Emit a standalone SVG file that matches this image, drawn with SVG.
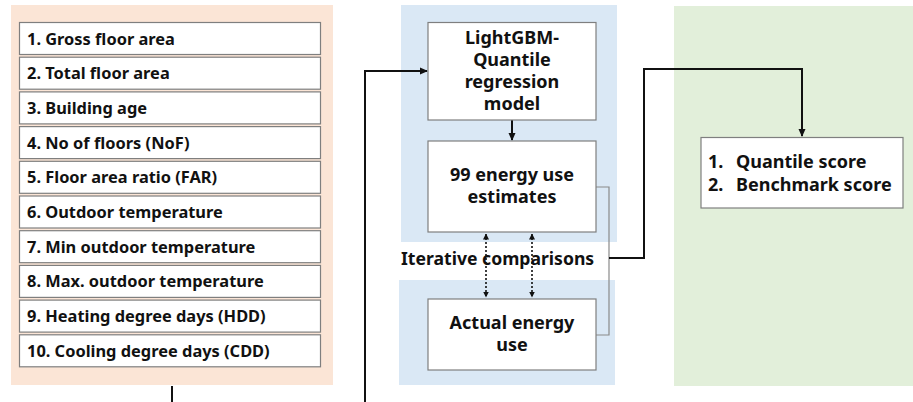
<svg xmlns="http://www.w3.org/2000/svg" width="913" height="402" viewBox="0 0 913 402">
<style>
.bg{stroke:none}
.box{fill:#fff;stroke:#7f7f7f;stroke-width:1.2}
.t{font-family:"Noto Sans","Liberation Sans",sans-serif;font-weight:bold;fill:#111;font-size:16.4px}
.c{text-anchor:middle;font-size:18px}
.wire{fill:none;stroke:#111;stroke-width:2}
.gray{fill:none;stroke:#8a8a8a;stroke-width:1.2}
.dot{fill:none;stroke:#111;stroke-width:1.6;stroke-dasharray:2 2}
</style>
<defs>
<marker id="ah" markerWidth="8" markerHeight="8" refX="7" refY="4" orient="auto" markerUnits="userSpaceOnUse"><path d="M0,0.5 L8,4 L0,7.5 Z" fill="#111"/></marker>
<marker id="ahs" markerWidth="6" markerHeight="6" refX="5.5" refY="3" orient="auto-start-reverse" markerUnits="userSpaceOnUse"><path d="M0,0 L6,3 L0,6 Z" fill="#111"/></marker>
</defs>
<rect class="bg" x="11" y="5" width="322" height="380" fill="#fbe5d6"/>
<rect class="bg" x="401" y="5" width="216" height="237" fill="#dae8f5"/>
<rect class="bg" x="399" y="280" width="216" height="105" fill="#dae8f5"/>
<rect class="bg" x="674" y="6" width="239" height="380" fill="#e2efda"/>

<g id="connectors">
<line class="wire" x1="172" y1="386" x2="172" y2="402"/>
<polyline class="wire" points="365,402 365,71 427,71" marker-end="url(#ah)"/>
<line class="wire" x1="512" y1="120" x2="512" y2="140" marker-end="url(#ah)"/>
<polyline class="gray" points="596,187 609,187 609,335 596,335"/>
<polyline class="wire" points="609,258 644,258 644,69 802,69 802,136" marker-end="url(#ah)"/>
</g>

<g id="features">
<g id="f1"><rect class="box" x="19.5" y="22.5" width="301" height="32"/><text class="t" x="27" y="44.5">1. Gross floor area</text></g>
<g id="f2"><rect class="box" x="19.5" y="57.2" width="301" height="32"/><text class="t" x="27" y="79.2">2. Total floor area</text></g>
<g id="f3"><rect class="box" x="19.5" y="91.9" width="301" height="32"/><text class="t" x="27" y="113.9">3. Building age</text></g>
<g id="f4"><rect class="box" x="19.5" y="126.6" width="301" height="32"/><text class="t" x="27" y="148.6">4. No of floors (NoF)</text></g>
<g id="f5"><rect class="box" x="19.5" y="161.3" width="301" height="32"/><text class="t" x="27" y="183.3">5. Floor area ratio (FAR)</text></g>
<g id="f6"><rect class="box" x="19.5" y="196" width="301" height="32"/><text class="t" x="27" y="218">6. Outdoor temperature</text></g>
<g id="f7"><rect class="box" x="19.5" y="230.7" width="301" height="32"/><text class="t" x="27" y="252.7">7. Min outdoor temperature</text></g>
<g id="f8"><rect class="box" x="19.5" y="265.4" width="301" height="32"/><text class="t" x="27" y="287.4">8. Max. outdoor temperature</text></g>
<g id="f9"><rect class="box" x="19.5" y="300.1" width="301" height="32"/><text class="t" x="27" y="322.1">9. Heating degree days (HDD)</text></g>
<g id="f10"><rect class="box" x="19.5" y="334.8" width="301" height="32"/><text class="t" x="27" y="356.8">10. Cooling degree days (CDD)</text></g>
</g>

<g id="model"><rect class="box" x="428" y="22.5" width="168" height="97.5"/>
<text class="t c" x="512" y="44">LightGBM-</text><text class="t c" x="512" y="66">Quantile</text><text class="t c" x="512" y="88">regression</text><text class="t c" x="512" y="110">model</text></g>

<g id="estimates"><rect class="box" x="428" y="141" width="168" height="91"/>
<text class="t c" x="512" y="181">99 energy use</text><text class="t c" x="512" y="203">estimates</text></g>

<g id="actual"><rect class="box" x="428" y="299" width="168" height="71"/>
<text class="t c" x="512" y="329">Actual energy</text><text class="t c" x="512" y="351">use</text></g>

<g id="comparison">
<text class="t" x="401" y="265" style="font-size:17.6px">Iterative comparisons</text>
<line class="dot" x1="486" y1="234" x2="486" y2="297" marker-start="url(#ahs)" marker-end="url(#ahs)"/>
<line class="dot" x1="532" y1="234" x2="532" y2="297" marker-start="url(#ahs)" marker-end="url(#ahs)"/>
</g>

<g id="scores"><rect class="box" x="701" y="137.5" width="202" height="70.5"/>
<text class="t" x="708" y="168" style="font-size:18px">1.<tspan x="736">Quantile score</tspan></text>
<text class="t" x="708" y="191" style="font-size:18px">2.<tspan x="736">Benchmark score</tspan></text></g>
</svg>
